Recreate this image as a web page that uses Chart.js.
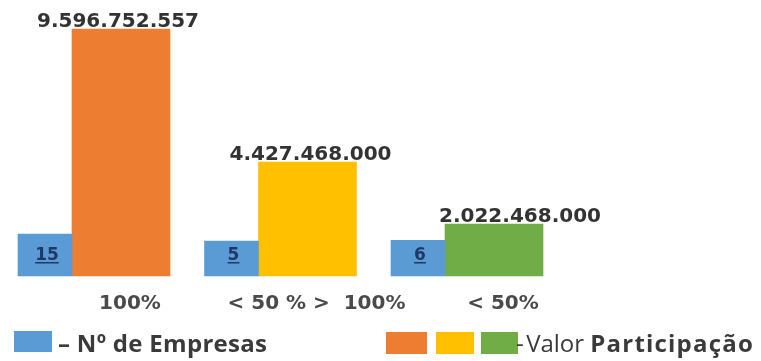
<!DOCTYPE html>
<html lang="pt-BR">
<head>
<meta charset="utf-8">
<script src="https://cdn.jsdelivr.net/npm/chart.js@4.4.1/dist/chart.umd.min.js"></script>
<style>
  body { margin: 0; background: #fff; }
  #caixa { position: relative; width: 761px; height: 361px; }
  .leg { position: absolute; color: #3a3a3a; font-family: "Open Sans", sans-serif; white-space: nowrap; }
  .quad { position: absolute; }
</style>
</head>
<body>
<div id="caixa">
  <canvas id="grafico"></canvas>
  <div class="quad" style="left:14px;top:331px;width:38px;height:21px;background:#5b9bd5"></div>
  <div class="leg" style="left:58px;top:326px;font-size:24px;font-weight:700;letter-spacing:0.3px">– Nº de Empresas</div>
  <div class="quad" style="left:386px;top:332px;width:41px;height:22px;background:#ed7d31"></div>
  <div class="quad" style="left:436px;top:332px;width:38px;height:22px;background:#ffc000"></div>
  <div class="quad" style="left:481px;top:332px;width:37px;height:22px;background:#70ad47"></div>
  <div class="leg" style="left:516px;top:326px;font-size:24px">-&#8202;Valor <b style="letter-spacing:1.2px">Participação</b></div>
</div>
<script>
// faixas de participação
const faixas = ['100%', '< 50 % >  100%', '< 50%'];
// número de empresas em cada faixa
const empresas = [15, 5, 6];
// valor da participação em cada faixa
const valores = [9596752557, 4427468000, 2022468000];
const coresValor = ['#ed7d31', '#ffc000', '#70ad47'];

function formatar(n) {
    return String(n).replace(/\B(?=(\d{3})+(?!\d))/g, '.');
}

// rótulos sobre as barras
const rotulos = {
    id: 'rotulos',
    afterDatasetsDraw(chart) {
        const ctx = chart.ctx;
        ctx.save();
        ctx.textAlign = 'center';
        ctx.textBaseline = 'alphabetic';

        ctx.font = 'bold 20px "DejaVu Sans"';
        ctx.fillStyle = '#333333';
        const desloc = [-3, 3, 26];
        chart.getDatasetMeta(1).data.forEach((bar, i) => {
            ctx.fillText(formatar(valores[i]), bar.x + desloc[i], bar.y - 2);
        });

        ctx.font = 'bold 17px "DejaVu Sans"';
        ctx.fillStyle = '#1f3864';
        chart.getDatasetMeta(0).data.forEach((bar, i) => {
            const txt = String(empresas[i]);
            const y = bar.base - 16;
            ctx.fillText(txt, bar.x + 2, y);
            const w = ctx.measureText(txt).width;
            ctx.fillRect(bar.x + 2 - w / 2, y + 2, w, 1.5);
        });
        ctx.restore();
    }
};

const ctx = document.getElementById('grafico').getContext('2d');
window.grafico = new Chart(ctx, {
    type: 'bar',
    data: {
        labels: faixas,
        datasets: [{
            label: 'Nº de Empresas',
            data: empresas,
            backgroundColor: '#5b9bd5',
            yAxisID: 'y2',
            base: -45,
            barThickness: 54,
            clip: false
        }, {
            label: 'Valor Participação',
            data: valores,
            backgroundColor: coresValor,
            yAxisID: 'y',
            barThickness: 98,
            clip: false
        }]
    },
    options: {
        responsive: true,
        maintainAspectRatio: false,
        animation: false,
        layout: {
            padding: { top: 29, left: 72, right: 316, bottom: 29 }
        },
        plugins: {
            legend: { display: false },
            tooltip: { enabled: false }
        },
        scales: {
            x: {
                offset: false,
                grid: { display: false, drawTicks: false },
                border: { display: false },
                ticks: {
                    padding: 16,
                    labelOffset: 58,
                    color: '#4a4a4a',
                    font: { family: 'DejaVu Sans', size: 20, weight: 'bold' }
                }
            },
            y: {
                display: false,
                min: 0,
                max: 9600000000
            },
            y2: {
                display: false,
                min: -45,
                max: 308
            }
        }
    },
    plugins: [rotulos]
});
</script>
</body>
</html>
